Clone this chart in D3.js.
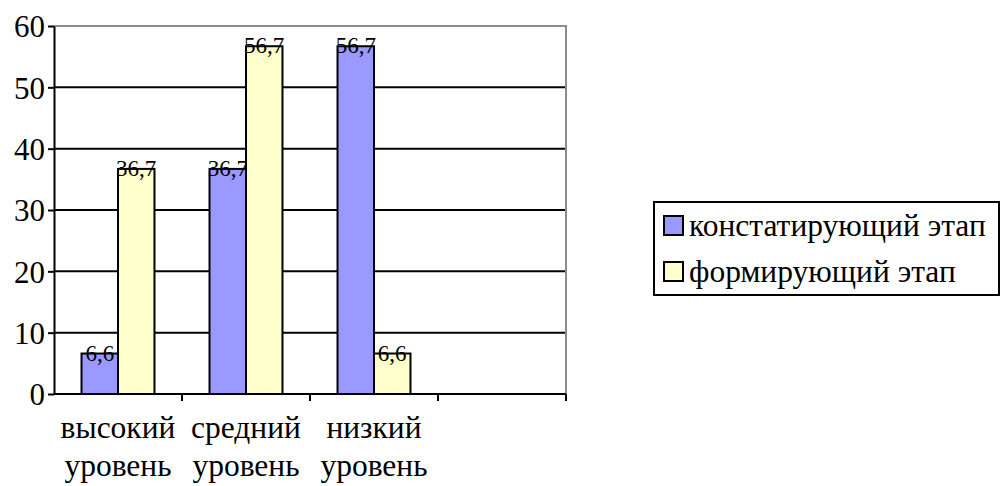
<!DOCTYPE html>
<html>
<head>
<meta charset="utf-8">
<script src="https://cdn.jsdelivr.net/npm/d3@7"></script>
<style>
  body { margin: 0; background: #fff; }
</style>
</head>
<body>
<div id="chart"></div>
<script>
// Data
const categories = ["высокий уровень", "средний уровень", "низкий уровень", ""];
const seriesNames = ["констатирующий этап", "формирующий этап"];
const constatValues = [6.6, 36.7, 56.7, null];
const formValues = [36.7, 56.7, 6.6, null];
const yTicks = [0, 10, 20, 30, 40, 50, 60];
const colors = ["#9999ff", "#ffffcc"];

const FONT = "Liberation Serif";
const W = 1000, H = 486;
const margin = { top: 26, left: 54 };
const width = 512, height = 368;

const svg = d3.select("#chart").append("svg")
    .attr("width", W)
    .attr("height", H)
    .attr("font-family", FONT);

const g = svg.append("g")
    .attr("transform", `translate(${margin.left},${margin.top})`);

// Scales
const x0 = d3.scaleBand().domain(d3.range(categories.length)).range([0, width]).padding(0);
const x1 = d3.scaleBand().domain([0, 1])
    .range([x0.bandwidth() * 0.215, x0.bandwidth() * 0.785]);
const y = d3.scaleLinear().domain([0, 60]).range([height, 0]);

// Gridlines
g.selectAll(".grid")
    .data(yTicks.filter(t => t > 0 && t < 60))
    .enter().append("line")
    .attr("x1", 0).attr("x2", width)
    .attr("y1", d => y(d)).attr("y2", d => y(d))
    .attr("stroke", "#000").attr("stroke-width", 2);

// plot frame (top and right in gray)
g.append("path")
    .attr("d", `M0,${y(60)}H${width}V${height}`)
    .attr("fill", "none").attr("stroke", "#8c8c8c").attr("stroke-width", 2);

// Bars
const series = [constatValues, formValues];
series.forEach((vals, s) => {
    const pts = vals.map((v, i) => ({ v, i })).filter(d => d.v != null);
    g.selectAll(".bar" + s)
        .data(pts)
        .enter().append("rect")
        .attr("x", d => x0(d.i) + x1(s))
        .attr("y", d => y(d.v))
        .attr("width", x1.bandwidth())
        .attr("height", d => height - y(d.v))
        .attr("fill", colors[s])
        .attr("stroke", "#000").attr("stroke-width", 2);

    // value labels
    g.selectAll(".lbl" + s)
        .data(pts)
        .enter().append("text")
        .attr("x", d => x0(d.i) + x1(s) + x1.bandwidth() / 2)
        .attr("y", d => y(d.v) + 7)
        .attr("text-anchor", "middle")
        .attr("font-size", 23)
        .text(d => String(d.v).replace(".", ","));
});

// Y axis
const yAxis = g.append("g")
    .call(d3.axisLeft(y).tickValues(yTicks).tickSize(6).tickSizeOuter(0))
    .attr("font-family", FONT);
yAxis.select(".domain").attr("stroke", "#000").attr("stroke-width", 2);
yAxis.selectAll(".tick line").attr("stroke", "#000").attr("stroke-width", 2);
yAxis.selectAll(".tick text")
    .attr("x", -9).attr("dy", "0.35em")
    .attr("fill", "#000")
    .attr("font-size", 31);

// X axis
const xAxisG = g.append("g").attr("transform", `translate(0,${height})`);
xAxisG.append("line")
    .attr("x1", 0).attr("x2", width)
    .attr("stroke", "#000").attr("stroke-width", 2);
xAxisG.selectAll(".xt")
    .data(d3.range(1, categories.length + 1))
    .enter().append("line")
    .attr("x1", d => d * x0.bandwidth()).attr("x2", d => d * x0.bandwidth())
    .attr("y1", 0).attr("y2", 7)
    .attr("stroke", "#000").attr("stroke-width", 2);

const catLabels = xAxisG.selectAll(".cat")
    .data(categories.map((c, i) => ({ c, i })).filter(d => d.c))
    .enter().append("text")
    .attr("text-anchor", "middle")
    .attr("font-size", 31.5);
catLabels.each(function(d) {
    const words = d.c.split(" ");
    const t = d3.select(this);
    words.forEach((w, k) => {
        t.append("tspan")
            .attr("x", x0(d.i) + x0.bandwidth() / 2)
            .attr("y", 44 + k * 38)
            .text(w);
    });
});

// Legend
const legend = svg.append("g").attr("transform", "translate(654,202)");
legend.append("rect")
    .attr("width", 345).attr("height", 93)
    .attr("fill", "#fff").attr("stroke", "#000").attr("stroke-width", 2);
seriesNames.forEach((name, s) => {
    legend.append("rect")
        .attr("x", 10).attr("y", 14 + s * 46)
        .attr("width", 19).attr("height", 19)
        .attr("fill", colors[s]).attr("stroke", "#000").attr("stroke-width", 2);
    legend.append("text")
        .attr("x", 35).attr("y", 34 + s * 46)
        .attr("font-size", 31.5)
        .text(name);
});
</script>
</body>
</html>
